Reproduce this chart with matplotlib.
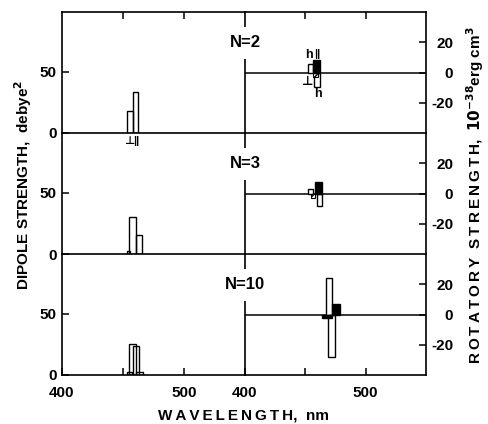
import matplotlib.pyplot as plt

plt.rcParams['font.family'] = ['Liberation Sans', 'DejaVu Sans']
plt.rcParams['font.weight'] = 'bold'

n_labels = ["N=2", "N=3", "N=10"]

# dipole strength bars, debye^2 (left edge nm, right edge nm, height)
dip_lo = [[453.0, 458.0], [453.0, 455.0, 460.5], [453.0, 455.2, 458.4, 460.7]]
dip_hi = [[458.0, 462.5], [456.0, 460.5, 465.5], [457.0, 460.7, 463.3, 466.0]]
dip_h = [[17.8, 33.5], [2.5, 30.5, 15.5], [2.5, 25.0, 23.5, 2.5]]

# rotatory strength bars, 10^-38 erg cm^3
rot_lo = [[451.8, 456.4, 457.3, 456.6],
          [451.8, 454.3, 458.4, 459.3],
          [464.2, 466.9, 468.8, 472.1]]
rot_hi = [[456.4, 462.0, 462.0, 460.6],
          [456.4, 458.4, 463.4, 463.4],
          [472.0, 472.1, 475.0, 478.5]]
rot_h = [[5.5, 8.0, -9.6, -3.0],
         [3.3, -3.0, 7.7, -8.5],
         [-2.5, 24.4, -27.8, 7.0]]
rot_kind = [["open", "filled", "open", "hatch"],
            ["open", "hatch", "filled", "open"],
            ["filled", "open", "open", "filled"]]

W, H = 489, 424
x0, xm, x1 = 62, 245, 426
row_tops = [12, 133, 254]
row_h = 121

fig = plt.figure(figsize=(W / 100, H / 100), dpi=100)

for i in range(3):
    bottom = 1 - (row_tops[i] + row_h) / H
    axl = fig.add_axes([x0 / W, bottom, (xm - x0) / W, row_h / H])
    axr = fig.add_axes([xm / W, bottom, (x1 - xm) / W, row_h / H])
    axl.set_facecolor('none')
    axr.set_facecolor('none')

    # left: dipole strength
    for lo, hi, h in zip(dip_lo[i], dip_hi[i], dip_h[i]):
        axl.bar(lo, h, width=hi - lo, align='edge', facecolor='none',
                edgecolor='black', linewidth=1.0)
    axl.set_xlim(400, 550)
    axl.set_ylim(0, 99)
    axl.spines['right'].set_visible(False)
    if i > 0:
        axl.spines['top'].set_visible(False)
    axl.set_yticks([0, 50])
    axl.tick_params(axis='y', direction='in', length=5, width=1.1,
                    labelsize=11, pad=4)

    # right: rotatory strength
    axr.axhline(0, color='black', linewidth=1.1, zorder=1)
    for lo, hi, h, k in zip(rot_lo[i], rot_hi[i], rot_h[i], rot_kind[i]):
        if k == "filled":
            axr.bar(lo, h, width=hi - lo, align='edge', facecolor='black',
                    edgecolor='black', linewidth=1.0, zorder=3)
        elif k == "hatch":
            axr.bar(lo, h, width=hi - lo, align='edge', facecolor='white',
                    edgecolor='black', hatch='////', linewidth=0.8, zorder=2)
        else:
            axr.bar(lo, h, width=hi - lo, align='edge', facecolor='white',
                    edgecolor='black', linewidth=1.0, zorder=2)
    axr.set_xlim(400, 550)
    axr.set_ylim(-40, 40)
    if i > 0:
        axr.spines['top'].set_visible(False)
    axr.yaxis.tick_right()
    axr.set_yticks([-20, 0, 20])
    axr.set_yticklabels(['-20', '0', '20'])
    axr.tick_params(axis='y', direction='in', length=5, width=1.1,
                    labelsize=11, pad=19.5)
    for lbl in axr.get_yticklabels():
        lbl.set_horizontalalignment('right')

    for ax in (axl, axr):
        for s in ax.spines.values():
            s.set_linewidth(1.2)
        if i == 0:
            ax.xaxis.tick_top()
            ax.set_xticks([450, 500])
            ax.set_xticklabels([])
        elif i == 2:
            ax.set_xticks([400, 450, 500])
            ax.set_xticklabels(['400', '', '500'])
        else:
            ax.set_xticks([])
        ax.tick_params(axis='x', direction='in', length=5, width=1.1,
                       labelsize=11, pad=8)

    axr.text(0, 0.745, n_labels[i], transform=axr.transAxes, ha='center',
             va='center', fontsize=12, fontweight='bold', zorder=10,
             clip_on=False,
             bbox=dict(facecolor='white', edgecolor='none', pad=6))

    if i == 0:
        axl.text(455.0, -6.5, "\u22a5", ha='center', va='center',
                 fontsize=8, clip_on=False)
        axl.text(461.0, -6.5, "||", ha='center', va='center',
                 fontsize=8, clip_on=False)
        axr.text(453.0, 11.5, "h", ha='center', va='center', fontsize=9,
                 clip_on=False)
        axr.text(459.5, 12.5, "||", ha='center', va='center', fontsize=8,
                 clip_on=False)
        axr.text(451.5, -6.5, "\u22a5", ha='center', va='center',
                 fontsize=9, clip_on=False)
        axr.text(460.3, -14.5, "h", ha='center', va='center', fontsize=9,
                 clip_on=False)

fig.text(0.047, 0.564, "DIPOLE STRENGTH,  debye$^2$",
         rotation=90, ha='center', va='center', fontsize=11)
fig.text(0.972, 0.54,
         "\u2009".join("ROTATORY") + "  " + "\u2009".join("STRENGTH")
         + ",  $10^{-38}$erg cm$^3$",
         rotation=90, ha='center', va='center', fontsize=11)
fig.text(0.497, 0.02, "\u2009".join("WAVELENGTH") + ",  nm", ha='center',
         va='center', fontsize=11)

fig.savefig("out.png", dpi=100)
